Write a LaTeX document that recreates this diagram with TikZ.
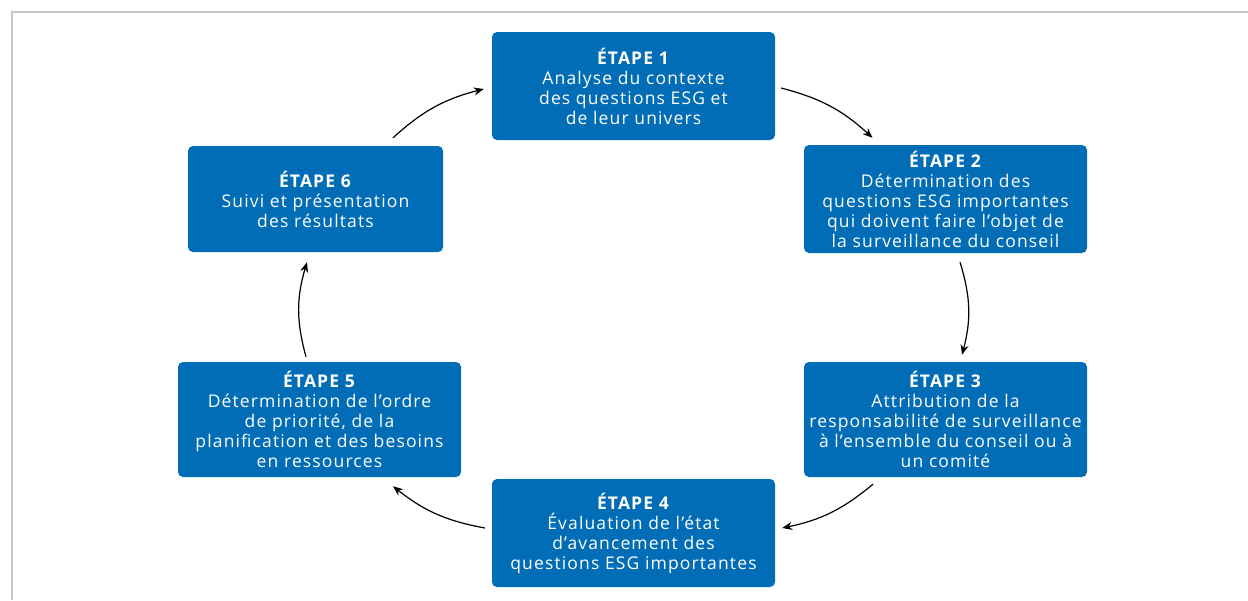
\documentclass[tikz,border=0pt]{standalone}
\usepackage{fontspec}
\setmainfont{Open Sans}[LetterSpace=6.5]
\usetikzlibrary{arrows.meta}
\definecolor{stepblue}{RGB}{0,109,182}
\definecolor{framegray}{RGB}{200,200,200}
\begin{document}
\begin{tikzpicture}[x=1pt,y=-1pt,
  stepbox/.style={fill=stepblue, rounded corners=5pt, text=white, align=center,
    font=\fontsize{17.5}{20}\selectfont, inner sep=0pt},
  conn/.style={-{Stealth[length=10pt,width=8pt]}, line width=1.2pt, black}]
\useasboundingbox (0,0) rectangle (1248,600);
\draw[framegray, line width=2.5pt] (12,600) -- (12,12) -- (1248,12);

\node[stepbox, minimum width=283pt, minimum height=108pt] (s1) at (633.5,86)
  {\textbf{ÉTAPE 1}\\Analyse du contexte\\des questions ESG et\\de leur univers};
\node[stepbox, minimum width=283pt, minimum height=108pt] (s2) at (945.5,199)
  {\textbf{ÉTAPE 2}\\Détermination des\\questions ESG importantes\\qui doivent faire l’objet de\\la surveillance du conseil};
\node[stepbox, minimum width=283pt, minimum height=115pt] (s3) at (945.5,419.5)
  {\textbf{ÉTAPE 3}\\Attribution de la\\responsabilité de surveillance\\à l’ensemble du conseil ou à\\un comité};
\node[stepbox, minimum width=283pt, minimum height=108pt] (s4) at (633.5,533)
  {\textbf{ÉTAPE 4}\\Évaluation de l’état\\d’avancement des\\questions ESG importantes};
\node[stepbox, minimum width=283pt, minimum height=115pt] (s5) at (319.5,419.5)
  {\textbf{ÉTAPE 5}\\Détermination de l’ordre\\de priorité, de la\\planification et des besoins\\en ressources};
\node[stepbox, minimum width=255pt, minimum height=106pt] (s6) at (315.5,199)
  {\textbf{ÉTAPE 6}\\Suivi et présentation\\des résultats};

\draw[conn] ([shift={(6pt,-2pt)}]s1.east) to[bend left=14] ([shift={(-73pt,7pt)}]s2.north);
\draw[conn] ([shift={(14.5pt,-9pt)}]s2.south) to[bend left=16] ([shift={(16.5pt,7pt)}]s3.north);
\draw[conn] ([shift={(-72.5pt,-7pt)}]s3.south) to[bend left=14] ([shift={(7pt,5pt)}]s4.east);
\draw[conn] ([shift={(-7pt,5pt)}]s4.west) to[bend left=14] ([shift={(73.5pt,-9pt)}]s5.south);
\draw[conn] ([shift={(-13.5pt,5pt)}]s5.north) to[bend left=16] ([shift={(-8.5pt,-10pt)}]s6.south);
\draw[conn] ([shift={(77.5pt,8pt)}]s6.north) to[bend left=14] ([shift={(-8pt,-3pt)}]s1.west);
\end{tikzpicture}
\end{document}
